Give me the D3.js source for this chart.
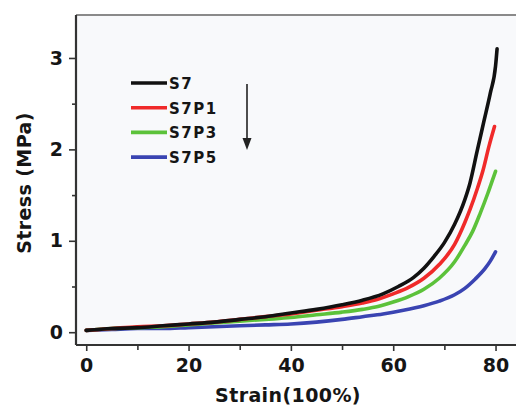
<!DOCTYPE html>
<html><head><meta charset="utf-8">
<script src="https://cdn.jsdelivr.net/npm/d3@7"></script>
<style>
html,body{margin:0;padding:0;background:#ffffff;}
svg{display:block;}
text{font-family:"DejaVu Sans",sans-serif;font-weight:bold;fill:#151515;}
</style></head>
<body>
<script>
// ---- data ----
const seriesNames = ["S7", "S7P1", "S7P3", "S7P5"];
const seriesColors = ["#111111", "#f02a2a", "#5cc23a", "#3a44b2"];

const strainS7  = [0, 5, 10, 15, 20, 25, 30, 35, 40, 45, 50, 54, 58, 61, 64, 66, 68, 70, 72, 74, 75, 76.4, 77.7, 79, 80, 80.3];
const stressS7  = [0.02, 0.04, 0.05, 0.07, 0.09, 0.11, 0.14, 0.17, 0.21, 0.25, 0.30, 0.35, 0.42, 0.50, 0.60, 0.70, 0.83, 0.98, 1.18, 1.45, 1.63, 1.98, 2.30, 2.62, 2.91, 3.10];

const strainS7P1 = [0, 5, 10, 15, 20, 25, 30, 35, 40, 45, 50, 54, 57, 60, 63, 66, 69, 72, 74, 75, 76.5, 77.5, 78.7, 79.8];
const stressS7P1 = [0.02, 0.04, 0.06, 0.07, 0.09, 0.11, 0.14, 0.17, 0.20, 0.24, 0.28, 0.32, 0.36, 0.42, 0.49, 0.59, 0.74, 0.96, 1.20, 1.34, 1.58, 1.76, 2.03, 2.25];

const strainS7P3 = [0, 5, 10, 15, 20, 25, 30, 35, 40, 45, 50, 54, 57, 60, 63, 66, 69, 72, 74, 75.5, 77, 78.5, 79.5, 80];
const stressS7P3 = [0.02, 0.04, 0.05, 0.06, 0.08, 0.10, 0.12, 0.14, 0.16, 0.19, 0.22, 0.25, 0.28, 0.33, 0.39, 0.47, 0.59, 0.77, 0.95, 1.10, 1.30, 1.52, 1.68, 1.76];

const strainS7P5 = [0, 5, 10, 15, 20, 25, 30, 35, 40, 45, 50, 54, 58, 62, 66, 69, 72, 74, 76, 78, 79, 80];
const stressS7P5 = [0.02, 0.03, 0.04, 0.04, 0.05, 0.06, 0.07, 0.08, 0.09, 0.11, 0.14, 0.17, 0.20, 0.24, 0.29, 0.34, 0.41, 0.48, 0.58, 0.70, 0.78, 0.88];

const strainData = [strainS7, strainS7P1, strainS7P3, strainS7P5];
const stressData = [stressS7, stressS7P1, stressS7P3, stressS7P5];

const xTicks = [0, 20, 40, 60, 80];
const xMinorTicks = [10, 30, 50, 70];
const yTicks = [0, 1, 2, 3];
const yMinorTicks = [0.5, 1.5, 2.5];
const xTitle = "Strain(100%)";
const yTitle = "Stress (MPa)";

// ---- chart ----
const W = 516, H = 409;
const L = 76, R = 516, T = 15, B = 345;
const svg = d3.select("body").append("svg").attr("width", W).attr("height", H);

const x = d3.scaleLinear().domain([-2, 84]).range([L, R]);
const y = d3.scaleLinear().domain([-0.14, 3.47]).range([B, T]);

svg.append("rect").attr("x", L).attr("y", T).attr("width", R - L).attr("height", B - T).attr("fill", "#f8f9fb");

// top border
svg.append("line").attr("x1", L).attr("x2", R).attr("y1", T).attr("y2", T)
  .attr("stroke", "#8a8a8a").attr("stroke-width", 2);

// lines
const line = d3.line().x(d => x(d[0])).y(d => y(d[1])).curve(d3.curveMonotoneX);
const order = [3, 2, 1, 0];
order.forEach(i => {
  const pts = strainData[i].map((s, j) => [s, stressData[i][j]]);
  svg.append("path").datum(pts).attr("d", line)
    .attr("fill", "none").attr("stroke", seriesColors[i])
    .attr("stroke-width", 3.6).attr("stroke-linejoin", "round").attr("stroke-linecap", "round");
});

// x axis
const xAxis = svg.append("g").attr("transform", `translate(0,${B})`)
  .call(d3.axisBottom(x).tickValues(xTicks).tickSize(6).tickPadding(8).tickFormat(d3.format("d")));
xAxis.select(".domain").attr("stroke", "#333").attr("stroke-width", 2.2).attr("d", `M${L},0H${R}`);
xAxis.selectAll(".tick line").attr("stroke", "#333").attr("stroke-width", 1.6);
xAxis.selectAll(".tick text").style("font-size", "19px").style("font-family", "DejaVu Sans").style("font-weight", "bold").attr("fill", "#151515");
const xMinor = svg.append("g").attr("transform", `translate(0,${B})`)
  .call(d3.axisBottom(x).tickValues(xMinorTicks).tickSize(5).tickFormat(""));
xMinor.select(".domain").remove();
xMinor.selectAll(".tick line").attr("stroke", "#333").attr("stroke-width", 1.6);

// y axis
const yAxis = svg.append("g").attr("transform", `translate(${L},0)`)
  .call(d3.axisLeft(y).tickValues(yTicks).tickSize(7).tickPadding(6).tickFormat(d3.format("d")));
yAxis.select(".domain").attr("stroke", "#333").attr("stroke-width", 2.2).attr("d", `M0,${T}V${B}`);
yAxis.selectAll(".tick line").attr("stroke", "#333").attr("stroke-width", 1.6);
yAxis.selectAll(".tick text").style("font-size", "19px").style("font-family", "DejaVu Sans").style("font-weight", "bold").attr("fill", "#151515");
const yMinor = svg.append("g").attr("transform", `translate(${L},0)`)
  .call(d3.axisLeft(y).tickValues(yMinorTicks).tickSize(4).tickFormat(""));
yMinor.select(".domain").remove();
yMinor.selectAll(".tick line").attr("stroke", "#333").attr("stroke-width", 1.6);

// axis titles
svg.append("text").attr("x", 288).attr("y", 402).attr("text-anchor", "middle")
  .style("font-size", "19px").style("letter-spacing", "0.4px").text(xTitle);
svg.append("text").attr("transform", "translate(31,183) rotate(-90)").attr("text-anchor", "middle")
  .style("font-size", "19px").style("letter-spacing", "0.4px").text(yTitle);

// legend
const legY0 = 83, legDy = 24.7;
seriesNames.forEach((n, i) => {
  const yy = legY0 + i * legDy;
  svg.append("line").attr("x1", 131).attr("x2", 167).attr("y1", yy).attr("y2", yy)
    .attr("stroke", seriesColors[i]).attr("stroke-width", 3.6);
  svg.append("text").attr("x", 169).attr("y", yy + 6)
    .style("font-size", "15px").style("letter-spacing", "1.5px").attr("fill", "#222").text(n);
});

// arrow
svg.append("line").attr("x1", 247).attr("x2", 247).attr("y1", 84).attr("y2", 140)
  .attr("stroke", "#222").attr("stroke-width", 1.6);
svg.append("path").attr("d", "M242.5,138 L251.5,138 L247,150 Z").attr("fill", "#222");
</script>
</body></html>
